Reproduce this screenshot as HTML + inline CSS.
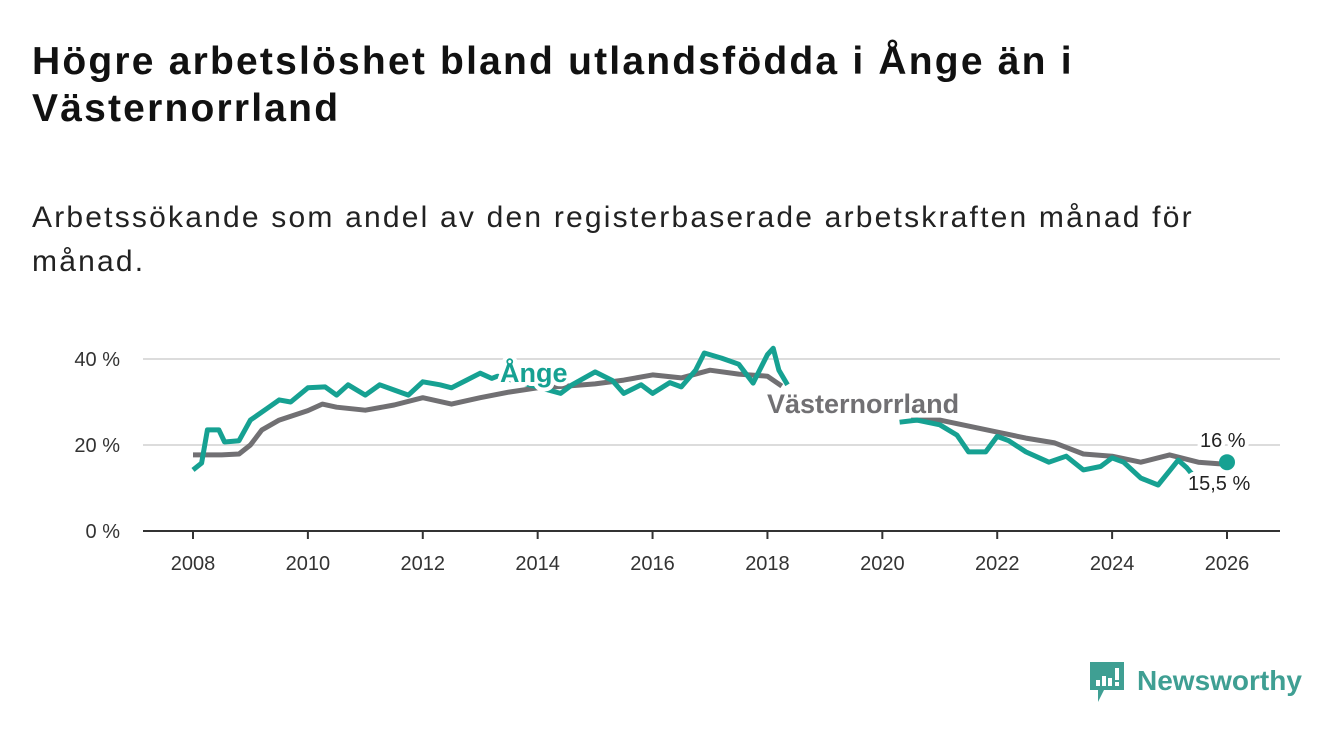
<!DOCTYPE html>
<html><head><meta charset="utf-8"><style>
body{margin:0;background:#fff;width:1340px;height:734px;overflow:hidden;font-family:"Liberation Sans",sans-serif;}
#t{position:absolute;left:32px;top:38px;font-size:39px;letter-spacing:2.2px;font-weight:bold;line-height:47px;color:#111;margin:0;width:1100px}
#s{position:absolute;left:32px;top:196px;font-size:30px;letter-spacing:2.2px;line-height:44px;color:#222;margin:0;width:1200px}
svg{position:absolute;left:0;top:0}
</style></head><body>
<h1 id="t">Högre arbetslöshet bland utlandsfödda i Ånge än i Västernorrland</h1>
<p id="s">Arbetssökande som andel av den registerbaserade arbetskraften månad för månad.</p>
<svg id="c" width="1340" height="734"></svg>
<script>
const grayYears=[2008,2008.5,2008.8,2009,2009.2,2009.5,2010,2010.25,2010.5,2011,2011.5,2012,2012.5,2013,2013.5,2014,2014.5,2015,2015.5,2016,2016.5,2017,2017.5,2018,2018.25,null,2020.5,2021,2021.5,2022,2022.5,2023,2023.5,2024,2024.5,2025,2025.5,2026];
const grayVals=[17.7,17.7,17.9,20,23.5,25.8,28,29.5,28.8,28.1,29.3,31,29.5,31,32.3,33.3,33.7,34.2,35.1,36.3,35.6,37.4,36.5,36,33.7,null,25.8,25.8,24.4,23,21.6,20.5,17.9,17.4,16,17.7,16,15.5];
const greenYears=[2008,2008.15,2008.25,2008.45,2008.55,2008.8,2009,2009.3,2009.5,2009.7,2010,2010.3,2010.5,2010.7,2011,2011.25,2011.5,2011.75,2012,2012.3,2012.5,2012.75,2013,2013.2,2013.3,2014.4,2014.6,2015,2015.3,2015.5,2015.8,2016,2016.3,2016.5,2016.75,2016.9,2017.2,2017.5,2017.75,2018,2018.1,2018.2,2018.35,null,2020.3,2020.6,2021,2021.3,2021.5,2021.8,2022,2022.2,2022.5,2022.9,2023.2,2023.5,2023.8,2024,2024.2,2024.5,2024.8,2025,2025.15,2025.3,2025.45];
const greenVals=[14.2,15.8,23.5,23.5,20.7,21,25.8,28.6,30.5,30,33.3,33.5,31.6,34,31.6,34,32.8,31.6,34.7,34,33.3,35,36.7,35.5,36,32,34,37,35,32,34,32,34.5,33.5,37.4,41.4,40.2,38.8,34.4,41,42.5,37.4,34,null,25.3,25.8,24.7,22.3,18.4,18.4,22,21,18.4,16,17.4,14.2,15,17,16,12.3,10.7,14,16.5,14.7,12.3];
const yTicks=[0,20,40];
const xTicks=[2008,2010,2012,2014,2016,2018,2020,2022,2024,2026];
const endVal=16;
const X=y=>193+(y-2008)*(1227-193)/18;
const Y=v=>531-v*(531-359)/40;
const svg=document.getElementById('c');const NS='http://www.w3.org/2000/svg';
function mk(t,a,p){const e=document.createElementNS(NS,t);for(const k in a)e.setAttribute(k,a[k]);(p||svg).appendChild(e);return e;}
yTicks.forEach(v=>{
 if(v>0){const g=mk('line',{x1:143,x2:1280,y1:Y(v),y2:Y(v),stroke:'#dcdcdc','stroke-width':2});
 
 }
 const t=mk('text',{x:120,y:Y(v)+7,'text-anchor':'end','font-size':20,fill:'#333'});t.textContent=v+' %';
 
 
});
const ax=mk('line',{x1:143,x2:1280,y1:531,y2:531,stroke:'#333','stroke-width':2});


xTicks.forEach(y=>{
 mk('line',{x1:X(y),x2:X(y),y1:531,y2:539,stroke:'#333','stroke-width':2});
 const t=mk('text',{x:X(y),y:570,'text-anchor':'middle','font-size':20,fill:'#333'});t.textContent=y;
 
 
});
function path(ys,vs){let d='',m=true;ys.forEach((y,i)=>{if(y===null){m=true;return;}d+=(m?'M':'L')+X(y).toFixed(1)+','+Y(vs[i]).toFixed(1);m=false;});return d;}
const gp=mk('path',{d:path(grayYears,grayVals),fill:'none',stroke:'#717073','stroke-width':5,'stroke-linejoin':'round'});


const ep=mk('path',{d:path(greenYears,greenVals),fill:'none',stroke:'#16a192','stroke-width':5,'stroke-linejoin':'round'});


const dot=mk('circle',{cx:X(2026),cy:Y(endVal),r:8,fill:'#16a192'});


function lab(x,y,txt,col,sz,w,name){const t=mk('text',{x:x,y:y,'font-size':sz,'font-weight':w,fill:col,stroke:'#fff','stroke-width':8,'paint-order':'stroke','stroke-linejoin':'round'});t.textContent=txt;
 
 }
lab(500,382,'Ånge','#16a192',27,'bold','ange-label');
lab(767,413,'Västernorrland','#717073',27,'bold','vasternorrland-label');
lab(1200,447,'16 %','#222',20,'normal','ange-end-value');
lab(1188,490,'15,5 %','#222',20,'normal','vasternorrland-end-value');
</script>
<svg width="1340" height="734">
<path d="M1090 662h34v28h-20l-6 12v-12h-8z" fill="#3f9f93"/>
<rect x="1096" y="680" width="4" height="6" fill="#fff"/><rect x="1102" y="676" width="4" height="10" fill="#fff"/><rect x="1108" y="678" width="4" height="8" fill="#fff"/><rect x="1115" y="668" width="4" height="12" fill="#fff"/><rect x="1115" y="682" width="4" height="4" fill="#fff"/>
<text x="1137" y="690" font-size="28" font-weight="bold" fill="#3f9f93" font-family="Liberation Sans">Newsworthy</text>
</svg>
</body></html>
